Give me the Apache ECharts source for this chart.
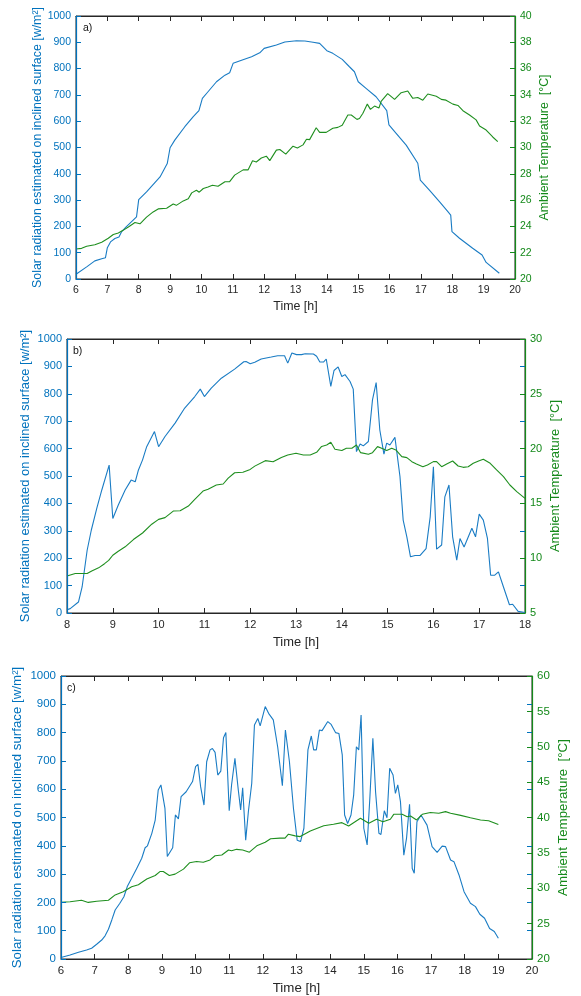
<!DOCTYPE html>
<html>
<head>
<meta charset="utf-8">
<script src="https://cdn.jsdelivr.net/npm/echarts@6/dist/echarts.min.js"></script>
<style>
  html, body { margin: 0; padding: 0; background: #fff; }
  #main { width: 581px; height: 996px; }
</style>
</head>
<body>
<div id="main"></div>
<script>
// panel a) - clear day
var solarTimeA = [6.0, 6.34, 6.6, 6.82, 6.94, 7.0, 7.1, 7.24, 7.37, 7.45, 7.6, 7.93, 8.0, 8.25, 8.68, 8.91, 9.0, 9.15, 9.47, 9.74, 9.92, 10.03, 10.21, 10.48, 10.75, 10.9, 11.01, 11.28, 11.6, 11.86, 12.0, 12.39, 12.66, 13.03, 13.3, 13.56, 13.77, 14.0, 14.19, 14.49, 14.72, 14.88, 15.0, 15.25, 15.57, 15.91, 15.98, 16.21, 16.53, 16.9, 16.98, 17.27, 17.59, 17.86, 17.95, 17.99, 18.23, 18.65, 18.95, 19.08, 19.5];
var solarA = [18, 46, 69, 77, 81, 119, 141, 154, 160, 179, 198, 236, 302, 331, 388, 439, 499, 528, 579, 617, 640, 687, 712, 750, 775, 784, 820, 832, 845, 860, 877, 890, 901, 906, 905, 900, 896, 868, 858, 835, 807, 788, 750, 725, 693, 640, 586, 554, 509, 440, 376, 338, 294, 256, 243, 180, 155, 117, 91, 63, 22];
var tempTimeA = [6.0, 6.18, 6.34, 6.6, 6.82, 7.03, 7.19, 7.35, 7.5, 7.67, 7.88, 8.04, 8.25, 8.46, 8.62, 8.89, 9.1, 9.2, 9.42, 9.58, 9.69, 9.84, 9.93, 10.06, 10.21, 10.35, 10.53, 10.75, 10.9, 11.06, 11.33, 11.49, 11.63, 11.75, 11.91, 12.07, 12.18, 12.39, 12.5, 12.69, 12.92, 13.06, 13.24, 13.35, 13.45, 13.66, 13.77, 13.98, 14.19, 14.35, 14.49, 14.67, 14.78, 14.96, 15.04, 15.15, 15.29, 15.39, 15.52, 15.66, 15.73, 15.94, 16.16, 16.37, 16.58, 16.74, 16.9, 17.06, 17.22, 17.49, 17.65, 17.8, 18.02, 18.18, 18.34, 18.55, 18.76, 18.87, 19.08, 19.29, 19.45];
var tempA = [22.28, 22.33, 22.49, 22.6, 22.8, 23.1, 23.38, 23.5, 23.7, 23.96, 24.3, 24.2, 24.7, 25.1, 25.33, 25.38, 25.7, 25.6, 25.94, 26.1, 26.55, 26.75, 26.6, 26.88, 27.0, 27.13, 27.05, 27.4, 27.4, 27.9, 28.3, 28.3, 29.0, 28.9, 29.2, 29.34, 29.0, 29.8, 29.85, 29.5, 30.1, 29.97, 30.2, 30.63, 30.6, 31.5, 31.15, 31.15, 31.46, 31.53, 31.7, 32.47, 32.47, 32.14, 32.2, 32.6, 33.3, 32.9, 33.15, 33.0, 33.5, 34.1, 33.66, 34.17, 34.3, 33.74, 33.8, 33.6, 34.07, 33.9, 33.66, 33.6, 33.3, 33.2, 32.8, 32.47, 32.1, 31.64, 31.33, 30.8, 30.44];

// panel b) - clouds in the afternoon
var solarTimeB = [8.0, 8.07, 8.25, 8.33, 8.44, 8.53, 8.65, 8.76, 8.92, 9.0, 9.12, 9.27, 9.4, 9.49, 9.56, 9.65, 9.74, 9.91, 10.0, 10.14, 10.36, 10.57, 10.79, 10.91, 11.0, 11.15, 11.37, 11.66, 11.86, 11.91, 12.0, 12.1, 12.24, 12.46, 12.6, 12.75, 12.82, 12.91, 13.01, 13.12, 13.2, 13.38, 13.45, 13.52, 13.6, 13.66, 13.76, 13.83, 13.92, 14.0, 14.07, 14.18, 14.25, 14.32, 14.4, 14.47, 14.58, 14.67, 14.75, 14.83, 14.92, 14.98, 15.05, 15.16, 15.27, 15.34, 15.42, 15.5, 15.6, 15.71, 15.84, 15.93, 16.0, 16.07, 16.18, 16.25, 16.34, 16.42, 16.51, 16.58, 16.67, 16.84, 16.92, 17.0, 17.09, 17.18, 17.25, 17.34, 17.42, 17.53, 17.66, 17.73, 17.85, 18.0];
var solarB = [12, 16, 40, 95, 229, 302, 382, 449, 540, 345, 394, 449, 485, 479, 522, 559, 607, 662, 607, 644, 693, 748, 790, 817, 790, 821, 857, 890, 917, 918, 910, 915, 927, 934, 939, 939, 912, 949, 943, 943, 946, 945, 937, 916, 916, 927, 827, 885, 898, 863, 870, 845, 817, 589, 617, 610, 626, 778, 841, 668, 580, 620, 613, 641, 498, 339, 278, 205, 210, 210, 235, 351, 534, 233, 248, 424, 467, 278, 193, 272, 241, 309, 278, 361, 339, 272, 138, 138, 150, 95, 30, 32, 6, 2];
var tempTimeB = [8.0, 8.18, 8.44, 8.54, 8.69, 8.82, 8.91, 9.0, 9.12, 9.27, 9.45, 9.65, 9.85, 10.0, 10.14, 10.32, 10.47, 10.65, 10.79, 10.97, 11.08, 11.26, 11.41, 11.52, 11.66, 11.84, 12.0, 12.1, 12.33, 12.5, 12.68, 12.82, 13.0, 13.16, 13.31, 13.45, 13.56, 13.67, 13.76, 13.85, 14.0, 14.1, 14.22, 14.32, 14.41, 14.58, 14.67, 14.78, 14.87, 14.98, 15.09, 15.18, 15.31, 15.42, 15.53, 15.63, 15.77, 15.87, 16.0, 16.07, 16.18, 16.29, 16.42, 16.54, 16.65, 16.76, 16.87, 17.0, 17.09, 17.24, 17.38, 17.53, 17.67, 17.82, 18.0];
var tempB = [8.38, 8.6, 8.6, 8.84, 9.12, 9.5, 9.8, 10.27, 10.64, 11.04, 11.7, 12.3, 13.1, 13.54, 13.7, 14.3, 14.33, 14.76, 15.37, 16.13, 16.3, 16.68, 16.77, 17.3, 17.8, 17.84, 18.1, 18.4, 18.9, 18.8, 19.18, 19.42, 19.57, 19.42, 19.42, 19.66, 20.2, 20.33, 20.58, 19.94, 19.82, 20.03, 20.03, 20.33, 19.63, 19.48, 19.63, 20.18, 20.03, 19.82, 20.03, 19.88, 19.27, 19.18, 18.81, 18.6, 18.35, 18.5, 18.81, 18.81, 18.35, 18.6, 18.87, 18.41, 18.29, 18.35, 18.66, 18.9, 19.02, 18.66, 18.05, 17.44, 16.68, 16.07, 15.46];

// panel c) - variable cloud cover
var solarTimeC = [6.0, 6.27, 6.52, 6.76, 6.91, 7.06, 7.21, 7.31, 7.41, 7.51, 7.61, 7.75, 7.87, 7.97, 8.1, 8.25, 8.4, 8.5, 8.57, 8.7, 8.8, 8.89, 8.97, 9.09, 9.16, 9.32, 9.4, 9.49, 9.57, 9.72, 9.91, 10.0, 10.07, 10.15, 10.25, 10.33, 10.43, 10.5, 10.58, 10.66, 10.75, 10.83, 10.9, 11.0, 11.07, 11.17, 11.27, 11.34, 11.4, 11.49, 11.57, 11.67, 11.75, 11.85, 11.92, 12.07, 12.17, 12.31, 12.44, 12.58, 12.67, 12.79, 12.91, 13.02, 13.12, 13.22, 13.34, 13.44, 13.51, 13.59, 13.68, 13.76, 13.93, 14.03, 14.16, 14.26, 14.36, 14.43, 14.52, 14.62, 14.7, 14.78, 14.85, 14.92, 15.0, 15.1, 15.18, 15.27, 15.35, 15.45, 15.51, 15.61, 15.69, 15.77, 15.87, 15.94, 16.01, 16.09, 16.19, 16.27, 16.36, 16.44, 16.5, 16.58, 16.7, 16.88, 17.03, 17.18, 17.33, 17.43, 17.58, 17.68, 17.83, 17.98, 18.17, 18.32, 18.45, 18.59, 18.74, 18.88, 19.0];
var solarC = [5, 14, 24, 32, 38, 52, 67, 82, 105, 138, 173, 197, 220, 256, 285, 320, 356, 393, 400, 444, 491, 597, 615, 532, 362, 393, 509, 495, 574, 591, 627, 680, 688, 609, 544, 697, 739, 744, 730, 650, 664, 782, 800, 524, 615, 709, 597, 527, 605, 420, 521, 621, 827, 850, 824, 892, 868, 845, 750, 612, 809, 697, 532, 420, 415, 462, 739, 788, 739, 739, 809, 807, 839, 829, 800, 797, 721, 509, 479, 509, 580, 750, 739, 862, 462, 403, 568, 780, 591, 444, 440, 524, 499, 674, 650, 585, 615, 556, 367, 426, 547, 320, 303, 485, 509, 473, 397, 377, 399, 397, 350, 344, 297, 238, 197, 185, 158, 144, 108, 97, 73];
var tempTimeC = [6.0, 6.27, 6.61, 6.81, 7.06, 7.41, 7.61, 7.85, 8.1, 8.3, 8.55, 8.8, 8.94, 9.04, 9.22, 9.39, 9.64, 9.82, 10.03, 10.23, 10.43, 10.58, 10.78, 10.98, 11.07, 11.22, 11.4, 11.6, 11.82, 12.07, 12.23, 12.51, 12.66, 12.76, 12.96, 13.11, 13.41, 13.81, 14.1, 14.35, 14.55, 14.9, 15.15, 15.38, 15.57, 15.79, 15.89, 16.14, 16.29, 16.39, 16.57, 16.74, 16.98, 17.23, 17.43, 17.58, 17.88, 18.17, 18.47, 18.71, 19.0];
var tempC = [28.02, 28.1, 28.3, 28.0, 28.16, 28.3, 29.06, 29.5, 30.2, 30.5, 31.3, 31.8, 32.36, 32.36, 31.8, 32.0, 32.7, 33.6, 33.77, 33.68, 34.0, 34.6, 34.7, 35.4, 35.3, 35.5, 35.4, 35.1, 36.0, 36.5, 37.0, 37.08, 37.08, 37.64, 37.4, 37.3, 38.1, 38.84, 39.04, 39.27, 38.8, 39.9, 39.2, 39.75, 39.4, 39.75, 40.45, 40.45, 40.1, 40.2, 39.65, 40.45, 40.7, 40.6, 40.83, 40.6, 40.3, 39.97, 39.65, 39.55, 39.0];

var BLUE = '#0072BD';
var BLUE_LINE = '#1a7cc4';
var GREEN = '#14891a';
var GREEN_LINE = '#1f8f1f';
var DARK = '#262626';
var FONT = 'Liberation Sans, Arial, sans-serif';

function pairs(xs, ys) {
  return xs.map(function (x, i) { return [x, ys[i]]; });
}

function plain(v) { return String(v); }

// grid boxes and per-panel settings
var panels = [
  { tag: 'a)', tagX: 83, tagY: 23, left: 76, width: 439, top: 16, height: 263,
    xMin: 6, xMax: 20, tMin: 20, tMax: 40, tStep: 2,
    tick: 10.5, title: 12.4, leftGap: 32, rightGap: 24, xGap: 22,
    solar: pairs(solarTimeA, solarA), temp: pairs(tempTimeA, tempA) },
  { tag: 'b)', tagX: 73, tagY: 346, left: 67, width: 458, top: 339, height: 274,
    xMin: 8, xMax: 18, tMin: 5, tMax: 30, tStep: 5,
    tick: 11, title: 12.9, leftGap: 35, rightGap: 24, xGap: 23,
    solar: pairs(solarTimeB, solarB), temp: pairs(tempTimeB, tempB) },
  { tag: 'c)', tagX: 67, tagY: 683, left: 61, width: 471, top: 676, height: 283,
    xMin: 6, xMax: 20, tMin: 20, tMax: 60, tStep: 5,
    tick: 11.5, title: 13.3, leftGap: 37, rightGap: 25, xGap: 23,
    solar: pairs(solarTimeC, solarC), temp: pairs(tempTimeC, tempC) }
];

var grid = [], xAxis = [], yAxis = [], series = [], graphic = [];

panels.forEach(function (p, i) {
  // box outline; coloured axis lines are drawn over its sides
  grid.push({ left: p.left, width: p.width, top: p.top, height: p.height,
    show: true, borderColor: DARK, borderWidth: 1, backgroundColor: 'transparent' });

  var xi = xAxis.length;
  xAxis.push({
    type: 'value', gridIndex: i, position: 'bottom', min: p.xMin, max: p.xMax, interval: 1,
    name: 'Time [h]', nameLocation: 'middle', nameGap: p.xGap, nameMoveOverlap: false,
    nameTextStyle: { color: DARK, fontSize: p.title, fontFamily: FONT },
    axisLine: { onZero: false, lineStyle: { color: DARK, width: 1 } },
    axisTick: { inside: true, length: 5, lineStyle: { color: DARK } },
    axisLabel: { color: DARK, fontSize: p.tick, fontFamily: FONT, margin: 6, formatter: plain },
    splitLine: { show: false }
  });
  // top border with ticks
  xAxis.push({
    type: 'value', gridIndex: i, position: 'top', min: p.xMin, max: p.xMax, interval: 1,
    axisLine: { show: true, onZero: false, lineStyle: { color: DARK, width: 1 } },
    axisTick: { show: true, inside: true, length: 5, lineStyle: { color: DARK } },
    axisLabel: { show: false },
    splitLine: { show: false }
  });

  var yi = yAxis.length;
  yAxis.push({
    type: 'value', gridIndex: i, position: 'left', min: 0, max: 1000, interval: 100, z: 4,
    name: 'Solar radiation estimated on inclined surface [w/m\u00b2]',
    nameLocation: 'middle', nameGap: p.leftGap, nameRotate: 90, nameMoveOverlap: false,
    nameTextStyle: { color: BLUE, fontSize: p.title, fontFamily: FONT },
    axisLine: { show: true, onZero: false, lineStyle: { color: BLUE, width: 1.2 } },
    axisTick: { inside: true, length: 5, lineStyle: { color: BLUE } },
    axisLabel: { color: BLUE, fontSize: p.tick, fontFamily: FONT, margin: 5, formatter: plain },
    splitLine: { show: false }
  });
  // left-axis ticks repeated on the right side
  yAxis.push({
    type: 'value', gridIndex: i, position: 'right', min: 0, max: 1000, interval: 100, z: 3,
    axisLine: { show: false, onZero: false },
    axisTick: { show: true, inside: true, length: 5, lineStyle: { color: BLUE } },
    axisLabel: { show: false },
    splitLine: { show: false }
  });
  yAxis.push({
    type: 'value', gridIndex: i, position: 'right', min: p.tMin, max: p.tMax, interval: p.tStep, z: 5,
    name: 'Ambient Temperature  [\u00b0C]',
    nameLocation: 'middle', nameGap: p.rightGap, nameRotate: 90, nameMoveOverlap: false,
    nameTextStyle: { color: GREEN, fontSize: p.title, fontFamily: FONT },
    axisLine: { show: true, onZero: false, lineStyle: { color: GREEN, width: 1.2 } },
    axisTick: { inside: true, length: 5, lineStyle: { color: GREEN } },
    axisLabel: { color: GREEN, fontSize: p.tick, fontFamily: FONT, margin: 5, formatter: plain },
    splitLine: { show: false }
  });

  series.push({
    type: 'line', xAxisIndex: xi, yAxisIndex: yi, data: p.solar,
    showSymbol: false, animation: false,
    lineStyle: { color: BLUE_LINE, width: 1.1 }, itemStyle: { color: BLUE_LINE }
  });
  series.push({
    type: 'line', xAxisIndex: xi, yAxisIndex: yi + 2, data: p.temp,
    showSymbol: false, animation: false,
    lineStyle: { color: GREEN_LINE, width: 1.1 }, itemStyle: { color: GREEN_LINE }
  });

  graphic.push({
    type: 'text', left: p.tagX, top: p.tagY,
    style: { text: p.tag, fill: '#111', font: '10.5px ' + FONT }
  });
});

var chart = echarts.init(document.getElementById('main'), null, { renderer: 'canvas' });
chart.setOption({
  backgroundColor: '#ffffff',
  animation: false,
  grid: grid,
  xAxis: xAxis,
  yAxis: yAxis,
  series: series,
  graphic: graphic
});
</script>
</body>
</html>
